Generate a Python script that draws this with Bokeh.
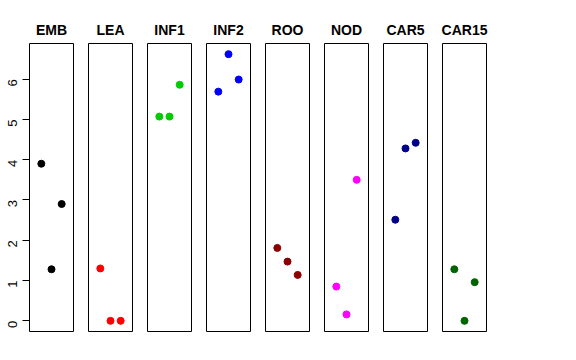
import numpy as np
from bokeh.plotting import figure
from bokeh.layouts import row
from bokeh.models import Range1d, FixedTicker
from bokeh.embed import file_html
from bokeh.resources import INLINE

tissues = ["EMB", "LEA", "INF1", "INF2", "ROO", "NOD", "CAR5", "CAR15"]
colors = ["#000000", "#FF0000", "#00CD00", "#0000FF", "#8B0000", "#FF00FF", "#00008B", "#006400"]
reps = [1, 2, 3]
values = {
    "EMB": [3.90, 1.28, 2.90],
    "LEA": [1.30, 0.00, 0.00],
    "INF1": [5.07, 5.07, 5.86],
    "INF2": [5.69, 6.62, 5.99],
    "ROO": [1.81, 1.47, 1.14],
    "NOD": [0.85, 0.16, 3.50],
    "CAR5": [2.51, 4.28, 4.42],
    "CAR15": [1.28, 0.00, 0.96],
}
yticks = [0, 1, 2, 3, 4, 5, 6]

allv = np.concatenate([values[t] for t in tissues])
ymin, ymax = allv.min(), allv.max()
ypad = 0.04 * (ymax - ymin)
xlo, xhi = 0, 4
xpad = 0.04 * (xhi - xlo)

FRAME_W = 44
FRAME_H = 288
TOP = 43
BOTTOM = 10
FONT = "Liberation Sans"

figs = []
for i, (t, c) in enumerate(zip(tissues, colors)):
    first = i == 0
    left = 29 if first else 8
    right = 7
    p = figure(width=left + FRAME_W + right, height=TOP + FRAME_H + BOTTOM,
               output_backend="svg", toolbar_location=None,
               x_range=Range1d(xlo - xpad, xhi + xpad),
               y_range=Range1d(ymin - ypad, ymax + ypad),
               min_border_left=left, min_border_right=right,
               min_border_top=TOP, min_border_bottom=BOTTOM,
               title=t, x_axis_location=None,
               y_axis_location="left" if first else None)
    p.title.align = "center"
    p.title.text_font = FONT
    p.title.text_font_size = "14px"
    p.title.text_font_style = "bold"
    p.title.text_color = "black"
    p.title.standoff = 12
    p.grid.visible = False
    p.outline_line_color = "black"
    p.outline_line_width = 1
    p.outline_line_alpha = 1
    p.background_fill_color = "white"
    p.border_fill_color = "white"
    if first:
        ax = p.yaxis[0]
        ax.ticker = FixedTicker(ticks=yticks)
        ax.major_label_orientation = np.pi / 2
        ax.major_tick_out = 7
        ax.major_tick_in = 0
        ax.minor_tick_out = 0
        ax.minor_tick_in = 0
        ax.major_label_standoff = 10
        ax.major_label_text_font = FONT
        ax.major_label_text_font_size = "13px"
        ax.major_label_text_color = "black"
        ax.axis_line_color = None
        ax.major_tick_line_color = "black"
    p.scatter(reps, values[t], size=7, color=c, line_color=c)
    figs.append(p)

layout = row(*figs, spacing=0)
open("out.html", "w").write(file_html(layout, INLINE))
